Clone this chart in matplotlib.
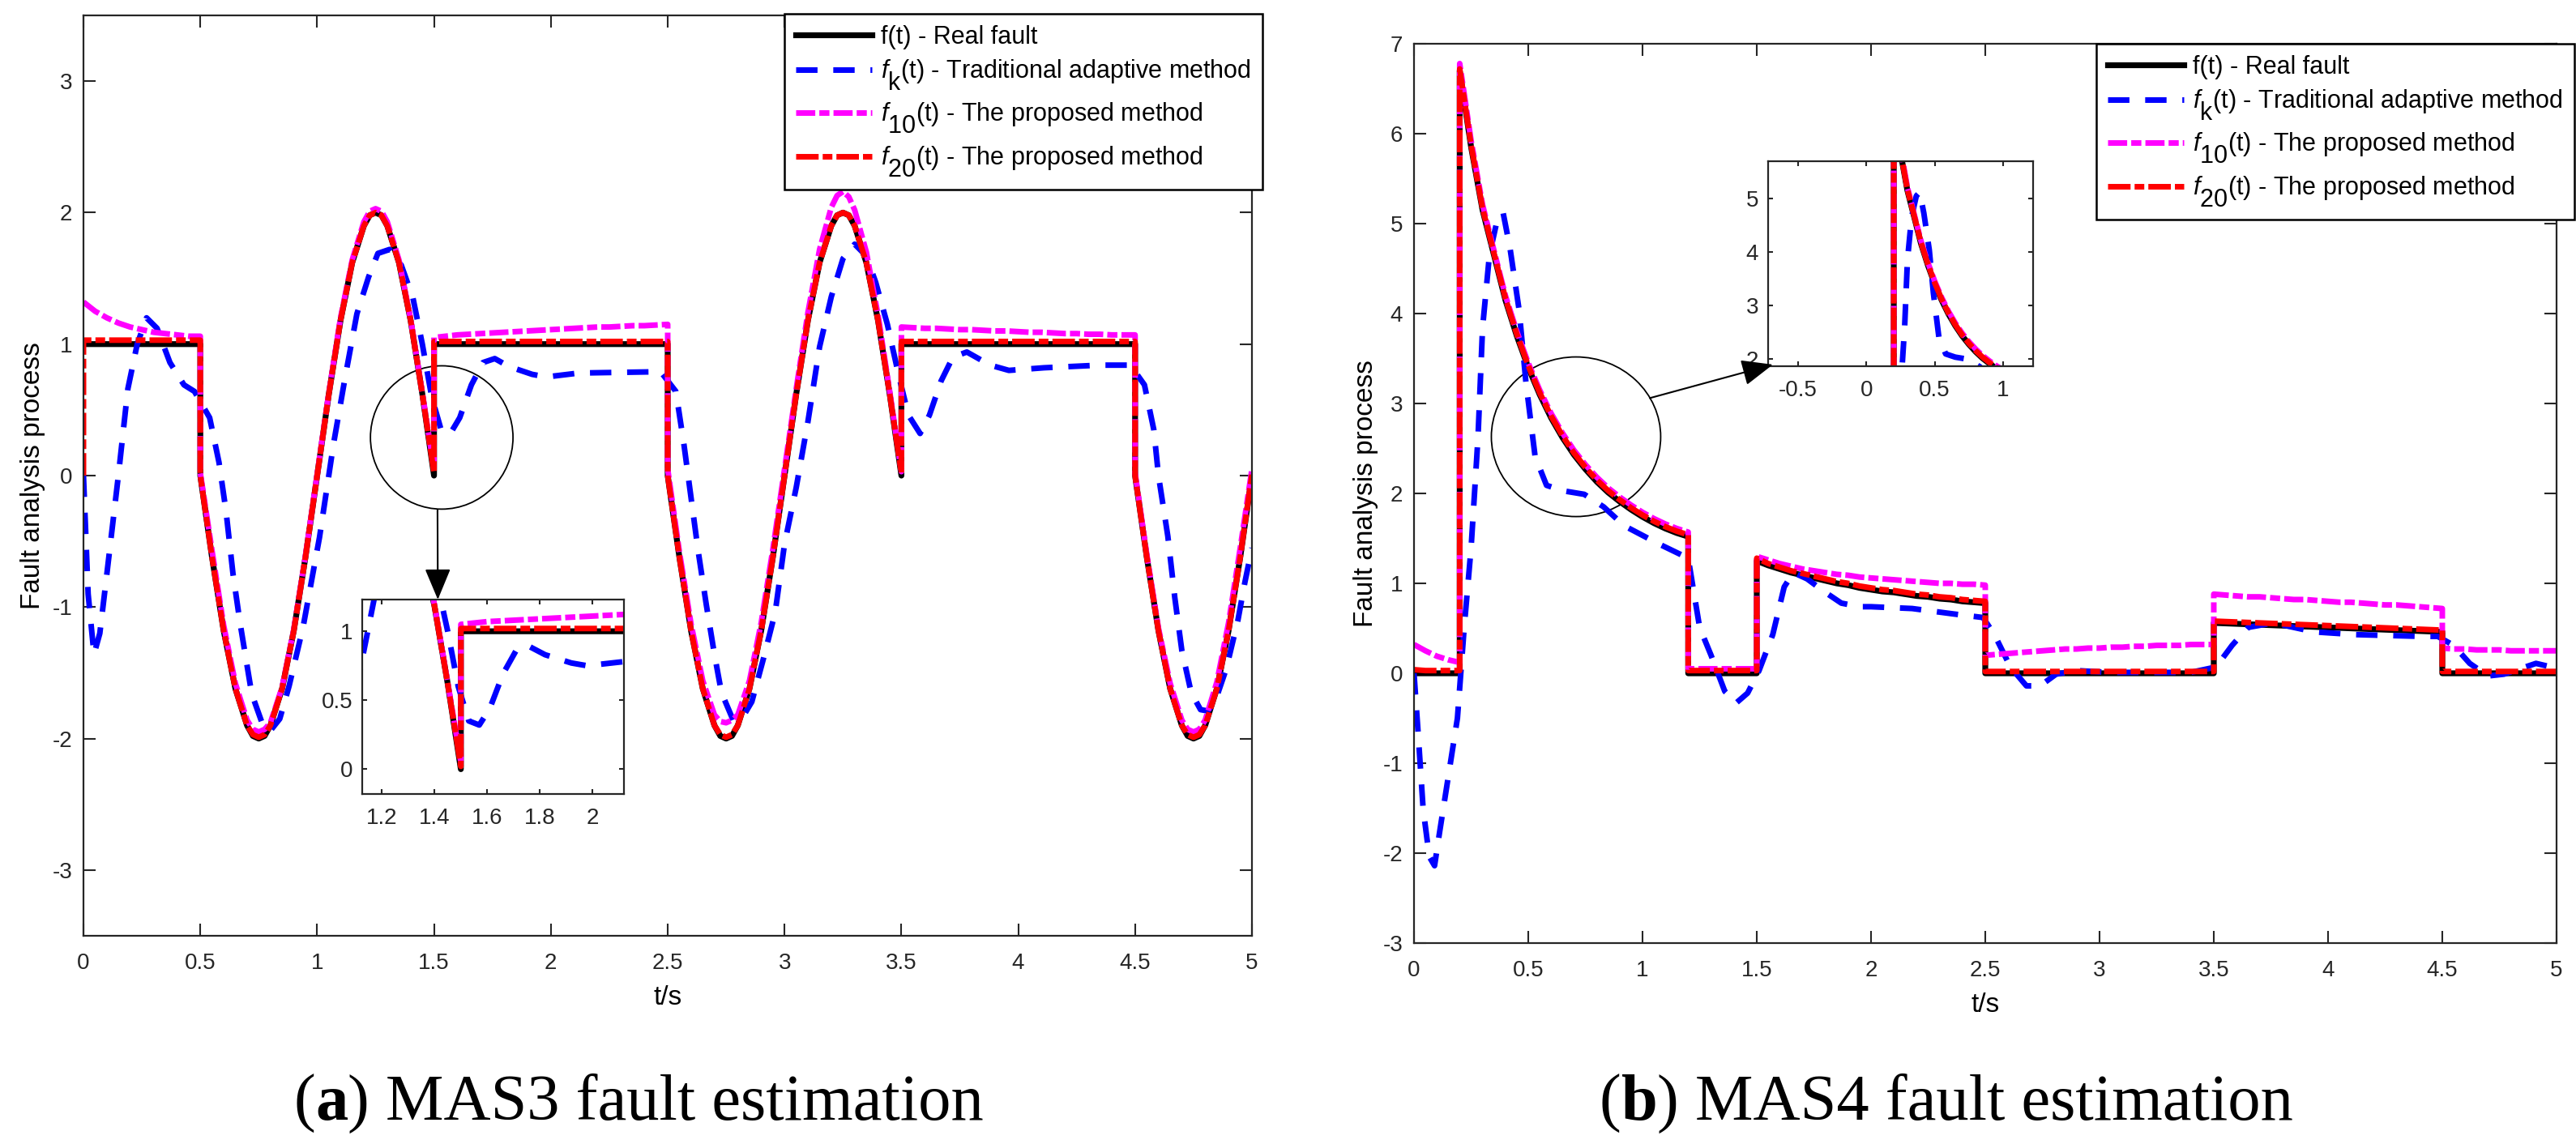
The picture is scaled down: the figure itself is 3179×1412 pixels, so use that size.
import matplotlib
matplotlib.use("Agg")
import matplotlib.pyplot as plt
from matplotlib.patches import Ellipse, ConnectionPatch
from matplotlib.offsetbox import TextArea, HPacker, AnchoredOffsetbox
from matplotlib.ticker import FormatStrFormatter

plt.rcParams["font.family"] = "Liberation Sans"
plt.rcParams["mathtext.fontset"] = "custom"
plt.rcParams["mathtext.rm"] = "Liberation Sans"
plt.rcParams["mathtext.it"] = "Liberation Sans:italic"
plt.rcParams["lines.scale_dashes"] = False

# MATLAB legend draws subscripts at full size, just lowered
try:
    import matplotlib._mathtext as _mt
    _mt.SHRINK_FACTOR = 1.0
    _mt.FontConstantsBase.sub1 = 0.9
except Exception:
    pass

# ---------------- (a) MAS3 ----------------
t_a = [0, 0, 0.05, 0.1, 0.15, 0.2, 0.25, 0.3, 0.35, 0.4, 0.45, 0.5,
       0.5, 0.55, 0.6, 0.65, 0.7, 0.725, 0.75, 0.775, 0.8, 0.85, 0.9, 0.95, 1.0,
       1.05, 1.1, 1.15, 1.2, 1.225, 1.25, 1.275, 1.3, 1.35, 1.4, 1.45, 1.5,
       1.5, 1.55, 1.6, 1.65, 1.7, 1.75, 1.8, 1.85, 1.9, 1.95, 2.0,
       2.05, 2.1, 2.15, 2.2, 2.25, 2.3, 2.35, 2.4, 2.45, 2.5,
       2.5, 2.55, 2.6, 2.65, 2.7, 2.725, 2.75, 2.775, 2.8, 2.85, 2.9, 2.95, 3.0,
       3.05, 3.1, 3.15, 3.2, 3.225, 3.25, 3.275, 3.3, 3.35, 3.4, 3.45, 3.5,
       3.5, 3.55, 3.6, 3.65, 3.7, 3.75, 3.8, 3.85, 3.9, 3.95, 4.0,
       4.05, 4.1, 4.15, 4.2, 4.25, 4.3, 4.35, 4.4, 4.45, 4.5,
       4.5, 4.55, 4.6, 4.65, 4.7, 4.725, 4.75, 4.775, 4.8, 4.85, 4.9, 4.95, 5.0]

real_a = [1, 1, 1, 1, 1, 1, 1, 1, 1, 1, 1, 1,
          0, -0.62, -1.18, -1.62, -1.90, -1.98, -2.00, -1.98, -1.90, -1.62, -1.18, -0.62, 0,
          0.62, 1.18, 1.62, 1.90, 1.98, 2.00, 1.98, 1.90, 1.62, 1.18, 0.62, 0,
          1, 1, 1, 1, 1, 1, 1, 1, 1, 1, 1,
          1, 1, 1, 1, 1, 1, 1, 1, 1, 1,
          0, -0.62, -1.18, -1.62, -1.90, -1.98, -2.00, -1.98, -1.90, -1.62, -1.18, -0.62, 0,
          0.62, 1.18, 1.62, 1.90, 1.98, 2.00, 1.98, 1.90, 1.62, 1.18, 0.62, 0,
          1, 1, 1, 1, 1, 1, 1, 1, 1, 1, 1,
          1, 1, 1, 1, 1, 1, 1, 1, 1, 1,
          0, -0.62, -1.18, -1.62, -1.90, -1.98, -2.00, -1.98, -1.90, -1.62, -1.18, -0.62, 0]

f10_a = [1.32, 1.32, 1.25, 1.20, 1.16, 1.13, 1.11, 1.09, 1.08, 1.07, 1.06, 1.06,
         0.02, -0.57, -1.14, -1.58, -1.86, -1.93, -1.95, -1.93, -1.88, -1.61, -1.17, -0.61, 0.01,
         0.63, 1.20, 1.64, 1.93, 2.01, 2.03, 2.01, 1.93, 1.64, 1.19, 0.63, 0.05,
         1.05, 1.06, 1.07, 1.075, 1.08, 1.085, 1.09, 1.095, 1.10, 1.105, 1.11,
         1.115, 1.12, 1.125, 1.13, 1.13, 1.135, 1.14, 1.14, 1.145, 1.15,
         0.05, -0.58, -1.13, -1.56, -1.82, -1.87, -1.88, -1.86, -1.82, -1.56, -1.12, -0.56, 0.05,
         0.66, 1.24, 1.72, 2.04, 2.13, 2.16, 2.12, 2.02, 1.70, 1.22, 0.64, 0.03,
         1.13, 1.125, 1.12, 1.12, 1.115, 1.11, 1.11, 1.105, 1.10, 1.10, 1.095,
         1.09, 1.09, 1.085, 1.08, 1.08, 1.075, 1.075, 1.07, 1.07, 1.07,
         0.02, -0.60, -1.16, -1.58, -1.86, -1.93, -1.95, -1.93, -1.86, -1.57, -1.12, -0.55, 0.05]

f20_a = [0, 1.03, 1.03, 1.03, 1.03, 1.03, 1.03, 1.03, 1.03, 1.03, 1.03, 1.03,
         0, -0.62, -1.18, -1.62, -1.90, -1.97, -1.99, -1.97, -1.90, -1.62, -1.18, -0.62, 0,
         0.62, 1.18, 1.62, 1.90, 1.98, 2.00, 1.98, 1.90, 1.62, 1.18, 0.62, 0.02,
         1.02, 1.02, 1.02, 1.02, 1.02, 1.02, 1.02, 1.02, 1.02, 1.02, 1.02,
         1.02, 1.02, 1.02, 1.02, 1.02, 1.02, 1.02, 1.02, 1.02, 1.02,
         0, -0.62, -1.18, -1.62, -1.90, -1.97, -1.99, -1.97, -1.90, -1.62, -1.18, -0.62, 0,
         0.62, 1.18, 1.62, 1.90, 1.98, 2.00, 1.98, 1.90, 1.62, 1.18, 0.62, 0.02,
         1.02, 1.02, 1.02, 1.02, 1.02, 1.02, 1.02, 1.02, 1.02, 1.02, 1.02,
         1.02, 1.02, 1.02, 1.02, 1.02, 1.02, 1.02, 1.02, 1.02, 1.02,
         0, -0.62, -1.18, -1.62, -1.90, -1.97, -1.99, -1.97, -1.90, -1.62, -1.18, -0.62, 0.01]

tk_a = [0, 0.02, 0.045, 0.07, 0.10, 0.15, 0.19, 0.23, 0.27, 0.315, 0.37, 0.43,
        0.475, 0.54, 0.58, 0.61, 0.64, 0.67, 0.72, 0.77, 0.80, 0.84, 0.88, 0.94,
        1.01, 1.07, 1.12, 1.17, 1.22, 1.26, 1.31, 1.36, 1.41, 1.45, 1.49, 1.53,
        1.57, 1.61, 1.66, 1.71, 1.76, 1.82, 1.92, 1.98, 2.12, 2.47, 2.535, 2.57,
        2.60, 2.63, 2.665, 2.70, 2.73, 2.78, 2.82, 2.86, 2.91, 2.96, 3.0, 3.05,
        3.10, 3.15, 3.20, 3.25, 3.30, 3.35, 3.39, 3.44, 3.49, 3.53, 3.58, 3.62,
        3.67, 3.72, 3.78, 3.88, 3.96, 4.11, 4.35, 4.48, 4.54, 4.58, 4.60, 4.64,
        4.67, 4.70, 4.74, 4.78, 4.81, 4.84, 4.89, 4.94, 4.97, 5.0]
fk_a = [0, -0.9, -1.36, -1.2, -0.75, 0.01, 0.66, 1.0, 1.2, 1.12, 0.86, 0.69,
        0.64, 0.44, 0.1, -0.27, -0.75, -1.12, -1.66, -1.91, -1.94, -1.85, -1.6, -1.15,
        -0.47, 0.24, 0.75, 1.23, 1.51, 1.69, 1.72, 1.6, 1.35, 1.0, 0.6, 0.35,
        0.32, 0.44, 0.69, 0.86, 0.89, 0.83, 0.77, 0.75, 0.78, 0.79, 0.64, 0.23,
        -0.17, -0.57, -0.98, -1.36, -1.65, -1.86, -1.84, -1.72, -1.39, -1.04, -0.52, -0.09,
        0.41, 0.98, 1.36, 1.65, 1.76, 1.67, 1.47, 1.15, 0.75, 0.46, 0.32, 0.46,
        0.72, 0.9, 0.94, 0.84, 0.8, 0.82, 0.84, 0.84, 0.69, 0.35, 0.0, -0.46,
        -0.93, -1.33, -1.65, -1.78, -1.79, -1.73, -1.47, -1.1, -0.81, -0.55]

# ---------------- (b) MAS4 ----------------
t_b = [0, 0.05, 0.1, 0.15, 0.2,
       0.2, 0.25, 0.3, 0.35, 0.4, 0.45, 0.5, 0.55, 0.6, 0.65, 0.7,
       0.75, 0.8, 0.85, 0.9, 0.95, 1.0, 1.05, 1.1, 1.15, 1.2,
       1.2, 1.25, 1.3, 1.35, 1.4, 1.45, 1.5,
       1.5, 1.55, 1.6, 1.65, 1.7, 1.75, 1.8, 1.85, 1.9, 1.95, 2.0,
       2.05, 2.1, 2.15, 2.2, 2.25, 2.3, 2.35, 2.4, 2.45, 2.5,
       2.5, 2.55, 2.6, 2.65, 2.7, 2.75, 2.8, 2.85, 2.9, 2.95, 3.0,
       3.05, 3.1, 3.15, 3.2, 3.25, 3.3, 3.35, 3.4, 3.45, 3.5,
       3.5, 3.55, 3.6, 3.65, 3.7, 3.75, 3.8, 3.85, 3.9, 3.95, 4.0,
       4.05, 4.1, 4.15, 4.2, 4.25, 4.3, 4.35, 4.4, 4.45, 4.5,
       4.5, 4.55, 4.6, 4.65, 4.7, 4.75, 4.8, 4.85, 4.9, 4.95, 5.0]

real_b = [0, 0, 0, 0, 0,
          6.70, 5.85, 5.15, 4.65, 4.15, 3.75, 3.40, 3.10, 2.84, 2.62, 2.43,
          2.27, 2.13, 2.01, 1.91, 1.82, 1.74, 1.67, 1.61, 1.56, 1.52,
          0, 0, 0, 0, 0, 0, 0,
          1.25, 1.20, 1.16, 1.12, 1.09, 1.06, 1.03, 1.00, 0.98, 0.95, 0.93,
          0.91, 0.90, 0.88, 0.86, 0.85, 0.83, 0.82, 0.80, 0.79, 0.78,
          0, 0, 0, 0, 0, 0, 0, 0, 0, 0, 0,
          0, 0, 0, 0, 0, 0, 0, 0, 0, 0,
          0.56, 0.555, 0.55, 0.545, 0.54, 0.535, 0.53, 0.525, 0.52, 0.515, 0.51,
          0.505, 0.50, 0.495, 0.49, 0.485, 0.48, 0.475, 0.47, 0.465, 0.46,
          0, 0, 0, 0, 0, 0, 0, 0, 0, 0, 0]

f10_b = [0.32, 0.25, 0.19, 0.15, 0.12,
         6.78, 5.92, 5.21, 4.70, 4.20, 3.80, 3.45, 3.15, 2.89, 2.67, 2.48,
         2.32, 2.18, 2.06, 1.96, 1.87, 1.79, 1.72, 1.66, 1.61, 1.57,
         0.05, 0.05, 0.05, 0.05, 0.05, 0.05, 0.05,
         1.30, 1.26, 1.22, 1.19, 1.16, 1.14, 1.12, 1.10, 1.09, 1.07, 1.06,
         1.05, 1.04, 1.03, 1.02, 1.01, 1.00, 1.00, 0.99, 0.99, 0.98,
         0.20, 0.21, 0.22, 0.23, 0.24, 0.25, 0.26, 0.27, 0.27, 0.28, 0.28,
         0.29, 0.29, 0.30, 0.30, 0.31, 0.31, 0.31, 0.32, 0.32, 0.32,
         0.88, 0.87, 0.86, 0.85, 0.85, 0.84, 0.83, 0.82, 0.82, 0.81, 0.80,
         0.79, 0.79, 0.78, 0.77, 0.76, 0.76, 0.75, 0.74, 0.73, 0.72,
         0.28, 0.27, 0.27, 0.26, 0.26, 0.26, 0.25, 0.25, 0.25, 0.25, 0.25]

f20_b = [0.04, 0.03, 0.03, 0.03, 0.03,
         6.72, 5.87, 5.17, 4.67, 4.17, 3.77, 3.42, 3.12, 2.86, 2.64, 2.45,
         2.29, 2.15, 2.03, 1.93, 1.84, 1.76, 1.69, 1.63, 1.58, 1.54,
         0.03, 0.03, 0.03, 0.03, 0.03, 0.03, 0.03,
         1.28, 1.22, 1.18, 1.14, 1.11, 1.08, 1.05, 1.02, 1.00, 0.97, 0.95,
         0.93, 0.92, 0.90, 0.88, 0.87, 0.85, 0.84, 0.82, 0.81, 0.80,
         0.02, 0.02, 0.02, 0.02, 0.02, 0.02, 0.02, 0.02, 0.02, 0.02, 0.02,
         0.02, 0.02, 0.02, 0.02, 0.02, 0.02, 0.02, 0.02, 0.02, 0.02,
         0.58, 0.575, 0.57, 0.565, 0.56, 0.555, 0.55, 0.545, 0.54, 0.535, 0.53,
         0.525, 0.52, 0.515, 0.51, 0.505, 0.50, 0.495, 0.49, 0.485, 0.48,
         0.02, 0.02, 0.02, 0.02, 0.02, 0.02, 0.02, 0.02, 0.02, 0.02, 0.02]

tk_b = [0, 0.018, 0.04, 0.067, 0.09, 0.11, 0.15, 0.19, 0.22, 0.25, 0.28, 0.30,
        0.33, 0.365, 0.39, 0.42, 0.46, 0.49, 0.53, 0.58, 0.65, 0.745, 0.83, 0.92,
        1.07, 1.20, 1.25, 1.30, 1.36, 1.41, 1.46, 1.51, 1.57, 1.62, 1.66, 1.72,
        1.80, 1.87, 1.95, 2.0, 2.18, 2.36, 2.49, 2.54, 2.61, 2.68, 2.74, 2.81,
        2.90, 3.04, 3.40, 3.51, 3.58, 3.65, 3.76, 3.94, 4.12, 4.41, 4.48, 4.55,
        4.62, 4.70, 4.77, 4.84, 4.91, 4.96, 5.0]
fk_b = [0.0, -0.66, -1.51, -2.04, -2.14, -1.8, -1.15, -0.5, 0.52, 1.4, 2.62, 3.84,
        4.65, 5.05, 5.12, 4.73, 4.04, 3.23, 2.41, 2.09, 2.03, 1.99, 1.85, 1.64,
        1.44, 1.28, 0.51, 0.2, -0.2, -0.33, -0.22, 0.03, 0.43, 0.96, 1.12, 1.05,
        0.9, 0.78, 0.74, 0.74, 0.72, 0.66, 0.62, 0.43, 0.07, -0.14, -0.14, -0.01,
        0.03, 0.01, 0.01, 0.07, 0.31, 0.51, 0.56, 0.46, 0.43, 0.41, 0.41, 0.31,
        0.11, -0.03, -0.01, 0.05, 0.11, 0.08, 0.05]

labels = ["f(t) - Real fault",
          r"$f_{\mathrm{k}}$(t) - Traditional adaptive method",
          r"$f_{10}$(t) - The proposed method",
          r"$f_{20}$(t) - The proposed method"]

W, H = 3179, 1412
GRAY = "#262626"


def rect(x0, y0, x1, y1):
    return [x0 / W, 1 - y1 / H, (x1 - x0) / W, (y1 - y0) / H]


def draw(ax, t, real, tk, fk, f10, f20):
    ax.plot(t, real, color="black", lw=5.2, label=labels[0])
    ax.plot(tk, fk, color="blue", lw=5, dashes=(19, 14), label=labels[1])
    ax.plot(t, f10, color="magenta", lw=5, dashes=(17, 3.6, 9, 3.6), label=labels[2])
    ax.plot(t, f20, color="red", lw=5, dashes=(20, 3.6, 8.6, 3.6), label=labels[3])


def style(ax, ticklen, xpad, ypad):
    for s in ax.spines.values():
        s.set_linewidth(1.6)
        s.set_color(GRAY)
    ax.tick_params(direction="in", top=True, right=True, length=ticklen, width=1.5,
                   colors=GRAY, labelsize=20)
    ax.tick_params(axis="x", pad=xpad)
    ax.tick_params(axis="y", pad=ypad)
    ax.xaxis.set_major_formatter(FormatStrFormatter("%g"))
    ax.yaxis.set_major_formatter(FormatStrFormatter("%g"))


fig = plt.figure(figsize=(W / 100, H / 100), dpi=100)

ax_a = fig.add_axes(rect(103, 19, 1545, 1155))
ax_b = fig.add_axes(rect(1745, 54, 3155, 1164))
in_a = fig.add_axes(rect(447, 740, 770, 980))
in_b = fig.add_axes(rect(2182, 199, 2509, 452))

draw(ax_a, t_a, real_a, tk_a, fk_a, f10_a, f20_a)
draw(in_a, t_a, real_a, tk_a, fk_a, f10_a, f20_a)
draw(ax_b, t_b, real_b, tk_b, fk_b, f10_b, f20_b)
draw(in_b, t_b, real_b, tk_b, fk_b, f10_b, f20_b)

ax_a.set_xlim(0, 5)
ax_a.set_ylim(-3.5, 3.5)
ax_a.set_xticks([0, 0.5, 1, 1.5, 2, 2.5, 3, 3.5, 4, 4.5, 5])
ax_a.set_yticks([-3, -2, -1, 0, 1, 2, 3])
ax_b.set_xlim(0, 5)
ax_b.set_ylim(-3, 7)
ax_b.set_xticks([0, 0.5, 1, 1.5, 2, 2.5, 3, 3.5, 4, 4.5, 5])
ax_b.set_yticks([-3, -2, -1, 0, 1, 2, 3, 4, 5, 6, 7])

in_a.set_xlim(1.125, 2.12)
in_a.set_ylim(-0.18, 1.23)
in_a.set_xticks([1.2, 1.4, 1.6, 1.8, 2])
in_a.set_yticks([0, 0.5, 1])
in_b.set_xlim(-0.72, 1.22)
in_b.set_ylim(1.86, 5.70)
in_b.set_xticks([-0.5, 0, 0.5, 1])
in_b.set_yticks([2, 3, 4, 5])

for ax in (ax_a, ax_b):
    style(ax, 11, 15, 10)
    ax.set_xlabel("t/s", fontsize=24)
    ax.set_ylabel("Fault analysis process", fontsize=24)
ax_a.xaxis.set_label_coords(0.5, -0.054)
ax_a.yaxis.set_label_coords(-0.0326, 0.5)
ax_b.xaxis.set_label_coords(0.5, -0.055)
ax_b.yaxis.set_label_coords(-0.0312, 0.5)
for ax in (in_a, in_b):
    style(ax, 4.5, 12, 8.5)

# zoom circles and arrows
ax_a.add_patch(Ellipse((1.533, 0.29), 0.61, 1.09, fill=False, ec="black", lw=1.3))
ax_b.add_patch(Ellipse((0.709, 2.63), 0.741, 1.775, fill=False, ec="black", lw=1.3))
for xyA, axA, xyB, axB in [((1.515, -0.26), ax_a, (0.289, 1.0), in_a),
                           ((1.032, 3.06), ax_b, (0.018, 0.008), in_b)]:
    con = ConnectionPatch(xyA=xyA, coordsA=axA.transData, xyB=xyB, coordsB=axB.transAxes,
                          arrowstyle="-|>,head_length=0.6,head_width=0.25",
                          mutation_scale=40, lw=1.5, color="black")
    fig.add_artist(con)

# legends
for ax, (lx, ly) in [(ax_a, (968, 17)), (ax_b, (2587, 54))]:
    leg = ax.legend(loc="upper left", bbox_to_anchor=(lx / W, 1 - ly / H),
                    bbox_transform=fig.transFigure, borderaxespad=0, fontsize=22,
                    handlelength=3.1, handletextpad=0.35, borderpad=0.45,
                    labelspacing=0.36, fancybox=False, framealpha=1)
    leg.get_frame().set_edgecolor("black")
    leg.get_frame().set_linewidth(1.8)

# captions
for letter, rest, cx in [("a", ") MAS3 fault estimation", 788), ("b", ") MAS4 fault estimation", 2402)]:
    fp = dict(family="Liberation Serif", size=58, color="black")
    box = HPacker(children=[TextArea("(", textprops=fp),
                            TextArea(letter, textprops=dict(fp, weight="bold")),
                            TextArea(rest, textprops=fp)],
                  align="baseline", pad=0, sep=0)
    anc = AnchoredOffsetbox(loc="center", child=box, pad=0, borderpad=0, frameon=False,
                            bbox_to_anchor=(cx / W, 1 - 1362 / H),
                            bbox_transform=fig.transFigure)
    fig.add_artist(anc)

fig.savefig("out.png", dpi=100)
